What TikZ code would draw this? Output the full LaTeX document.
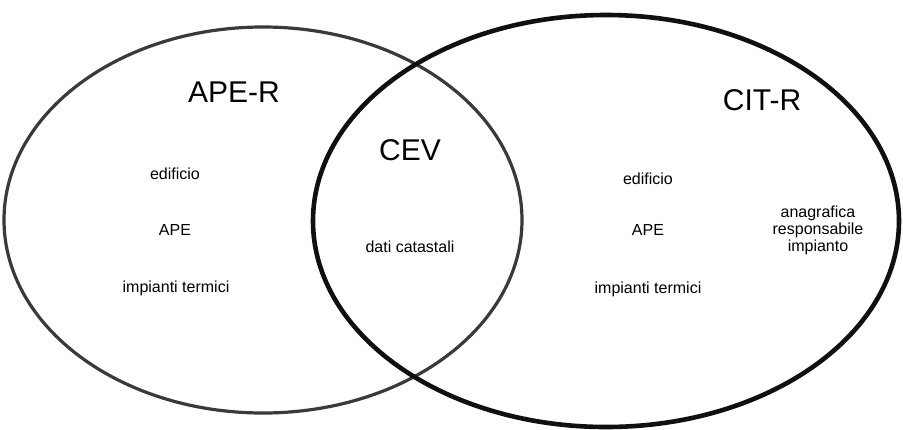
\documentclass[tikz,border=0pt]{standalone}
\usepackage{fontspec}
\setmainfont{Liberation Sans}
\usetikzlibrary{shapes.geometric}
\definecolor{ringgrey}{HTML}{3A3A3A}
\definecolor{ringblack}{HTML}{101010}
\tikzset{
  ring/.style={ellipse, inner sep=0pt, fill=none},
  title/.style={font=\fontsize{30}{34}\selectfont, inner sep=0pt},
  item/.style={font=\fontsize{16}{18}\selectfont, inner sep=0pt, align=center}
}
\begin{document}
\begin{tikzpicture}[x=1pt,y=-1pt]
  \useasboundingbox[fill=white] (0,0) rectangle (903,429);
  % the two registers
  \node[ring, draw=ringgrey, line width=3.2pt, minimum width=518pt, minimum height=386pt] (aper) at (263,220) {};
  \node[ring, draw=ringblack, line width=4.6pt, minimum width=586pt, minimum height=412pt] (citr) at (606,221) {};
  % titles
  \node[title] (taper) at (234,92) {APE-R};
  \node[title] (tcitr) at (762,100) {CIT-R};
  \node[title] (tcev) at (410,150) {CEV};
  % APE-R contents
  \node[item] (a1) at (175,174) {edificio};
  \node[item] (a2) at (175,230) {APE};
  \node[item] (a3) at (176,288) {impianti termici};
  % shared contents
  \node[item] (c1) at (410,247) {dati catastali};
  % CIT-R contents
  \node[item] (b1) at (648,179) {edificio};
  \node[item] (b2) at (648,230) {APE};
  \node[item] (b3) at (648,289) {impianti termici};
  \node[item] (b4) at (818,230) {anagrafica\\[-1pt]responsabile\\[-1pt]impianto};
\end{tikzpicture}
\end{document}
